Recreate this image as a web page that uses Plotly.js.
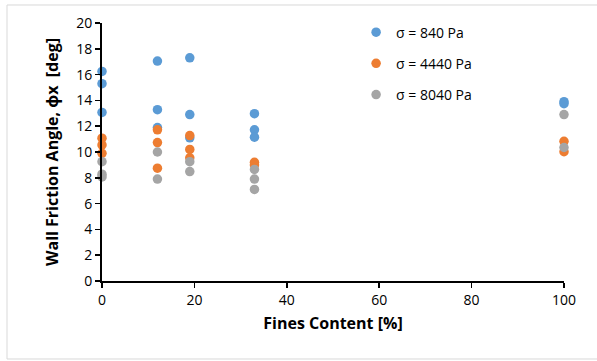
<!DOCTYPE html>
<html><head><meta charset="utf-8">
<script src="https://cdn.plot.ly/plotly-3.0.1.min.js"></script>
<style>html,body{margin:0;padding:0;background:#fff;}#chart{width:597px;height:361px;}</style>
</head><body><div id="chart"></div>
<script>
const seriesNames = ["σ = 840 Pa", "σ = 4440 Pa", "σ = 8040 Pa"];
const x840  = [0, 0, 0, 12, 12, 12, 19, 19, 19, 33, 33, 33, 100, 100];
const y840  = [16.25, 15.3, 13.07, 17.05, 13.28, 11.9, 17.3, 12.9, 11.1, 12.97, 11.72, 11.15, 13.9, 13.75];
const x4440 = [0, 0, 0, 12, 12, 12, 19, 19, 19, 33, 33, 100, 100];
const y4440 = [11.07, 10.55, 9.9, 11.72, 10.73, 8.75, 11.27, 10.2, 9.55, 9.2, 9.0, 10.83, 10.02];
const x8040 = [0, 0, 0, 12, 12, 19, 19, 33, 33, 33, 100, 100];
const y8040 = [9.25, 8.28, 8.07, 10.0, 7.9, 9.25, 8.48, 8.65, 7.9, 7.1, 12.9, 10.35];
const colors = ["#5B9BD5", "#ED7D31", "#A5A5A5"];
const xs = [x840, x4440, x8040], ys = [y840, y4440, y8040];

const traces = seriesNames.map((n, i) => ({
  type: "scatter", mode: "markers", name: n, x: xs[i], y: ys[i],
  legendgroup: "g" + i, cliponaxis: false,
  marker: {color: colors[i], size: 9.5}
}));

const fam = "Open Sans, Noto Sans, sans-serif";
const axisFont = {family: fam, size: 14, color: "#000"};
const titleFont = {family: fam, size: 16, color: "#000"};
const layout = {
  width: 597, height: 361,
  margin: {l: 102, r: 33, t: 23, b: 80},
  paper_bgcolor: "#fff", plot_bgcolor: "#fff",
  showlegend: true,
  legend: {x: 0.55, y: 1.025, xanchor: "left", yanchor: "top", traceorder: "grouped",
           tracegroupgap: 10, font: axisFont, bgcolor: "rgba(0,0,0,0)", itemwidth: 30},
  xaxis: {range: [0, 100], dtick: 20, showgrid: false, zeroline: false, showline: true,
          linecolor: "#000", linewidth: 2, ticks: "outside", ticklen: 5, tickcolor: "#000", tickwidth: 1.5,
          tickfont: axisFont,
          title: {text: "<b>Fines Content [%]</b>", font: titleFont, standoff: 10}},
  yaxis: {range: [0, 20], dtick: 2, showgrid: false, zeroline: false, showline: true,
          linecolor: "#000", linewidth: 2, ticks: "outside", ticklen: 5, tickcolor: "#000", tickwidth: 1.5,
          tickfont: axisFont,
          title: {text: "<b>Wall Friction Angle, ɸx  [deg]</b>", font: titleFont, standoff: 14}},
  shapes: [{type: "rect", xref: "paper", yref: "paper",
            x0: -0.2056, x1: 1.2, y0: -0.3023, y1: 1.0698,
            line: {color: "#d9d9d9", width: 1}, fillcolor: "rgba(0,0,0,0)", layer: "below"}]
};
Plotly.newPlot("chart", traces, layout, {displayModeBar: false, staticPlot: true});
</script></body></html>
